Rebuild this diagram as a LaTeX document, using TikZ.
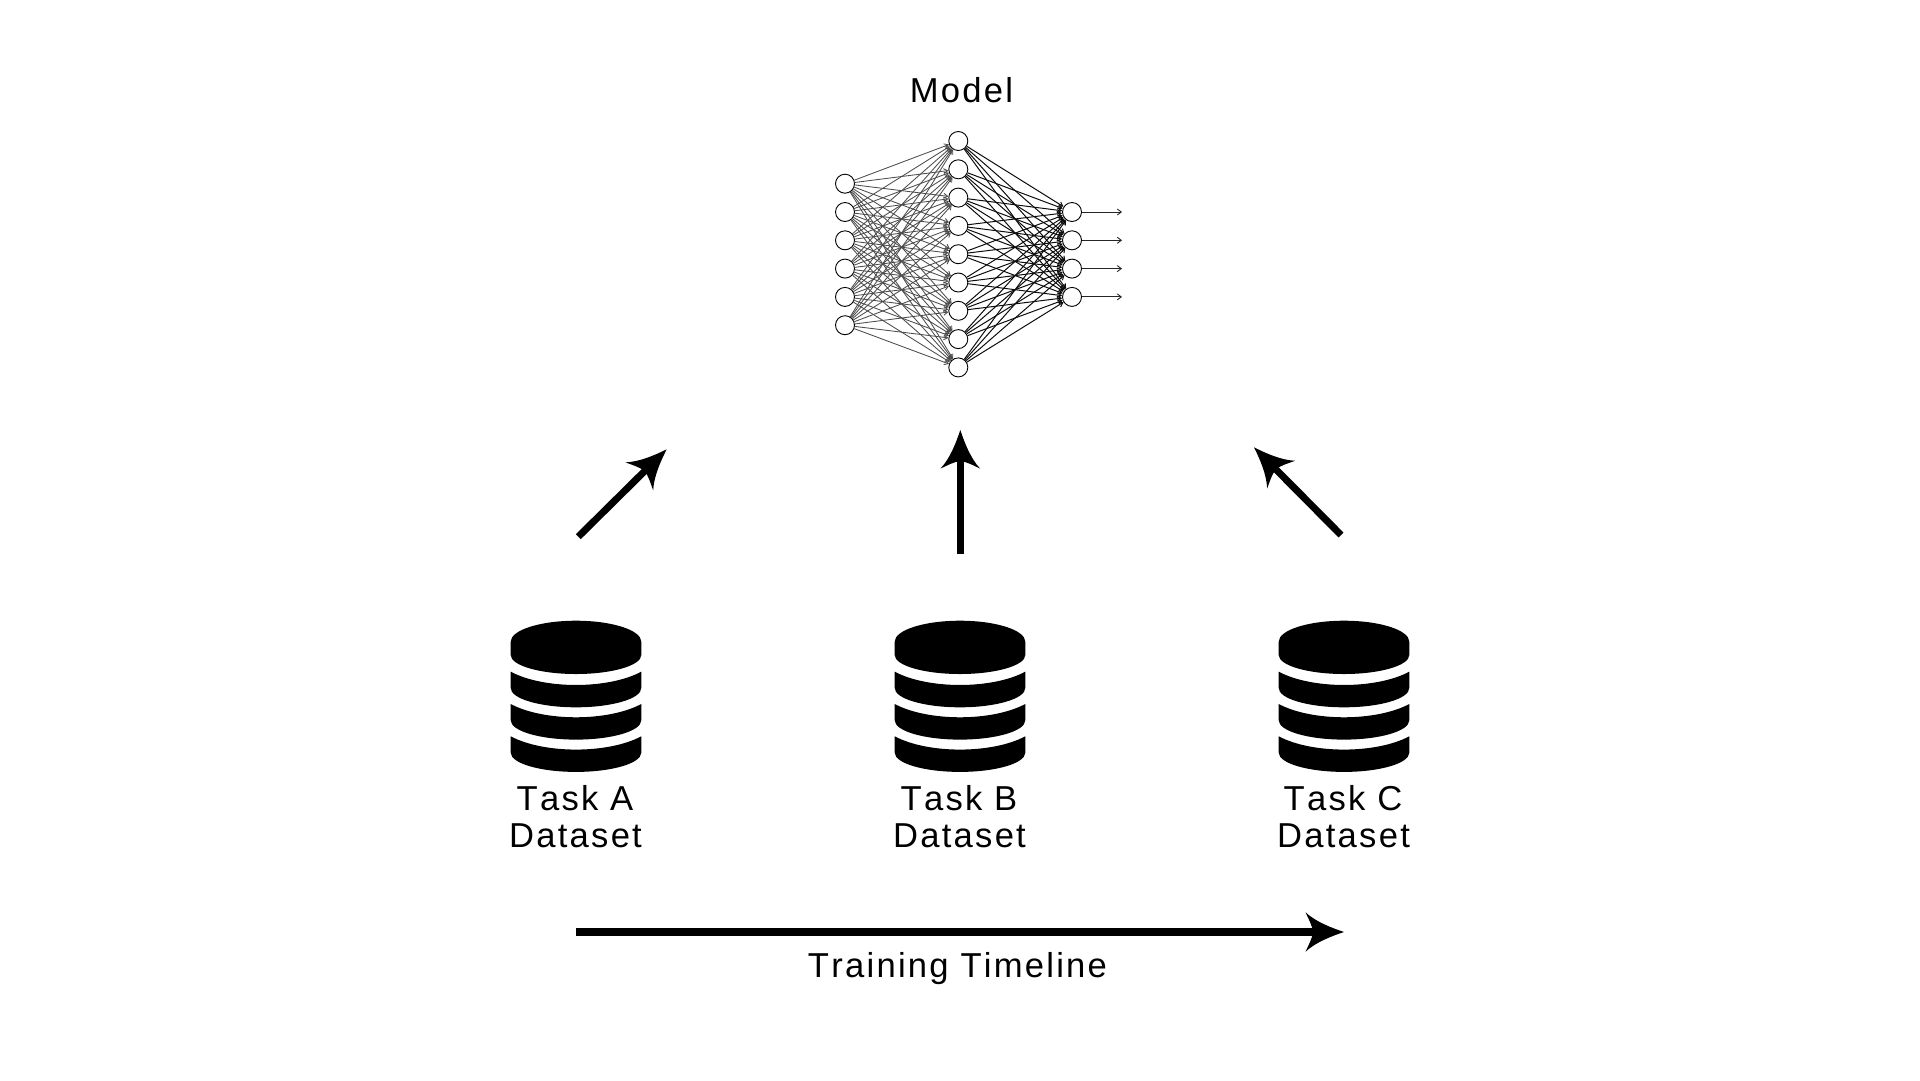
\documentclass[tikz,border=0pt]{standalone}
\usepackage{fontspec}
\setmainfont[LetterSpace=6.5,Kerning=Off]{Liberation Sans}
\usetikzlibrary{arrows.meta,calc}
\pgfdeclarearrow{
  name=Swoop,
  setup code={
    \pgfarrowssettipend{0pt}
    \pgfarrowssetbackend{-38.5pt}
    \pgfarrowssetlineend{-28pt}
    \pgfarrowssetvisualbackend{-31pt}
  },
  drawing code={
    \pgfpathmoveto{\pgfqpoint{0pt}{0pt}}
    \pgfpathcurveto{\pgfqpoint{-12pt}{4pt}}{\pgfqpoint{-28pt}{10pt}}{\pgfqpoint{-38.5pt}{19.7pt}}
    \pgfpathcurveto{\pgfqpoint{-35pt}{12pt}}{\pgfqpoint{-32pt}{7pt}}{\pgfqpoint{-31pt}{0pt}}
    \pgfpathcurveto{\pgfqpoint{-32pt}{-7pt}}{\pgfqpoint{-35pt}{-12pt}}{\pgfqpoint{-38.5pt}{-19.7pt}}
    \pgfpathcurveto{\pgfqpoint{-28pt}{-10pt}}{\pgfqpoint{-12pt}{-4pt}}{\pgfqpoint{0pt}{0pt}}
    \pgfpathclose
    \pgfusepathqfill
  }
}
\tikzset{
  x=1pt,y=-1pt,
  neuron/.style={circle,draw=black,fill=white,line width=0.9pt,minimum size=19pt,inner sep=0pt},
  inedge/.style={draw=black!70,line width=0.85pt,-{Straight Barb[length=4pt,width=5pt]}},
  midedge/.style={draw=black!95,line width=1pt,-{Straight Barb[length=4pt,width=5pt]}},
  outedge/.style={draw=black!85,line width=0.9pt,-{Straight Barb[length=4pt,width=6pt]}},
  bigarrow/.style={line width=7pt,-Swoop},
  timearrow/.style={line width=8pt,-Swoop},
  label/.style={font=\fontsize{34.6}{34.6}\selectfont,anchor=base,inner sep=0pt,text=black},
  dbicon/.pic={
    \fill[black] (-65.3,21) .. controls (-65.3,9.4) and (-36,0) .. (0,0)
       .. controls (36,0) and (65.3,9.4) .. (65.3,21) -- (65.3,34.3)
       .. controls (65.3,44.8) and (36,53.3) .. (0,53.3)
       .. controls (-36,53.3) and (-65.3,44.8) .. (-65.3,34.3) -- cycle;
    \foreach \d in {0,32.3,64.6}{
      \fill[black] (-65.3,51+\d) .. controls (-32,68.7+\d) and (32,68.7+\d) .. (65.3,51+\d)
        -- (65.3,67.3+\d) .. controls (65.3,78+\d) and (36,86.6+\d) .. (0,86.6+\d)
        .. controls (-36,86.6+\d) and (-65.3,78+\d) .. (-65.3,67.3+\d) -- cycle;
    }
  }
}
\begin{document}
\begin{tikzpicture}
\useasboundingbox (0,0) rectangle (1920,1080);
% network nodes
\foreach \i in {1,...,6} \node[neuron] (a\i) at (845,{183.7+28.3*(\i-1)}) {};
\foreach \i in {1,...,9} \node[neuron] (b\i) at (958.3,{141+28.3*(\i-1)}) {};
\foreach \i in {1,...,4} \node[neuron] (c\i) at (1072,{212+28.3*(\i-1)}) {};
\foreach \i in {1,...,6} \foreach \j in {1,...,9} \draw[inedge] (a\i) -- (b\j);
\foreach \i in {1,...,9} \foreach \j in {1,...,4} \draw[midedge] (b\i) -- (c\j);
\foreach \i in {1,...,4} {
  \coordinate (o\i) at (1122,{212+28.3*(\i-1)});
  \draw[outedge] (c\i) -- (o\i);
}
\node[label] (model) at (961.5,102) {Model};
% big arrows
\coordinate (l0) at (578.3,536.7); \coordinate (l1) at (666.7,449.3);
\coordinate (m0) at (960.3,554);   \coordinate (m1) at (960.3,430);
\coordinate (r0) at (1341,535);    \coordinate (r1) at (1254,447.3);
\coordinate (t0) at (576.4,932);   \coordinate (t1) at (1344,932);
\draw[bigarrow] (l0) -- (l1);
\draw[bigarrow] (m0) -- (m1);
\draw[bigarrow] (r0) -- (r1);
\draw[timearrow] (t0) -- (t1);
% datasets
\pic at (576,620.7) {dbicon};
\pic at (960,620.7) {dbicon};
\pic at (1344,620.7) {dbicon};
\node[label] (ta) at (575,810) {Task A};
\node[label] (da) at (575.5,847.3) {Dataset};
\node[label] (tb) at (959,810) {Task B};
\node[label] (db) at (959.5,847.3) {Dataset};
\node[label] (tc) at (1343,810) {Task C};
\node[label] (dc) at (1343.5,847.3) {Dataset};
\node[label] (tl) at (957.5,977) {Training Timeline};
\end{tikzpicture}
\end{document}
